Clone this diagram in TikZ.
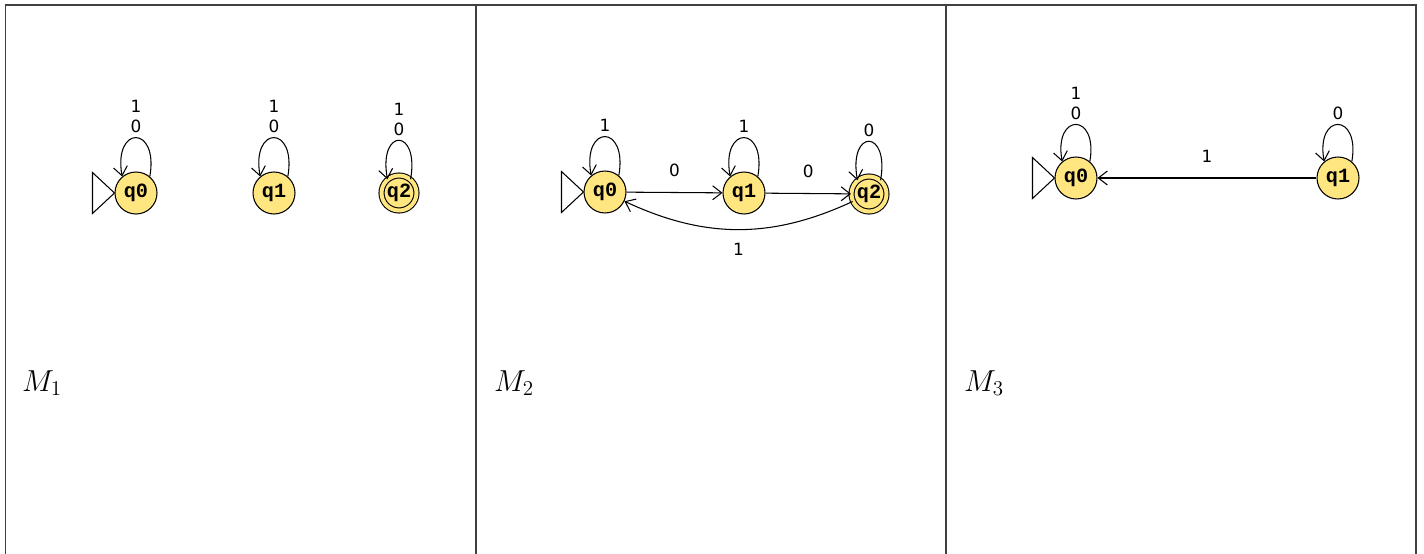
\documentclass[tikz,border=0pt]{standalone}
\usepackage{fontspec}
\usetikzlibrary{arrows.meta}
\newfontfamily\statefont{Liberation Mono}
\newfontfamily\edgefont{DejaVu Sans}
\definecolor{stateyellow}{RGB}{255,230,128}
\tikzset{
    mystate/.style={
        circle,              % state circle
        draw,
        fill=stateyellow,
        minimum size=0.84cm,
        inner sep=0pt,
        line width=0.6pt,
        font=\statefont\bfseries\fontsize{11.5}{13}\selectfont
    },
    myaccept/.style={
        mystate,
        minimum size=0.70cm,
        double=stateyellow,
        double distance=0.08cm
    },
    myedge/.style={-{Straight Barb[length=1.8mm,width=2.8mm]}, line width=0.6pt},
    mylabel/.style={font=\edgefont\fontsize{9.6}{11.4}\selectfont, align=center, inner sep=2.5pt},
    myframe/.style={black!75, line width=0.8pt}
}
\begin{document}
\begin{tikzpicture}[x=0.02cm, y=-0.02cm]

\clip (0,0) rectangle (1424,554);

% frame and dividers
\draw[myframe] (5.5,560) -- (5.5,5) -- (1416,5) -- (1416,560);
\draw[myframe] (476,5) -- (476,560);
\draw[myframe] (946,5) -- (946,560);

% machine names
\node[font=\fontsize{17}{20}\selectfont] (M1) at (42,383) {$M_1$};
\node[font=\fontsize{17}{20}\selectfont] (M2) at (514,383) {$M_2$};
\node[font=\fontsize{17}{20}\selectfont] (M3) at (984,383) {$M_3$};

% M1
\node[mystate] (A0) at (136,193) {q0};
\node[mystate] (A1) at (274,193) {q1};
\node[myaccept] (A2) at (399,193) {q2};
\draw[line width=0.6pt, fill=white] (A0.west) -- ++(-22,-20.5) -- ++(0,41) -- cycle;
\draw[myedge] (A0.50) .. controls +(80:1.05cm) and +(100:1.05cm) .. node[mylabel, above, pos=0.5] {1\\0} (A0.130);
\draw[myedge] (A1.50) .. controls +(80:1.05cm) and +(100:1.05cm) .. node[mylabel, above, pos=0.5] {1\\0} (A1.130);
\draw[myedge] (A2.50) .. controls +(80:1.05cm) and +(100:1.05cm) .. node[mylabel, above, pos=0.5] {1\\0} (A2.130);

% M2
\node[mystate] (B0) at (605,192) {q0};
\node[mystate] (B1) at (744,193) {q1};
\node[myaccept] (B2) at (869,194) {q2};
\draw[line width=0.6pt, fill=white] (B0.west) -- ++(-22,-20.5) -- ++(0,41) -- cycle;
\draw[myedge] (B0.50) .. controls +(80:1.05cm) and +(100:1.05cm) .. node[mylabel, above, pos=0.5] {1} (B0.130);
\draw[myedge] (B1.50) .. controls +(80:1.05cm) and +(100:1.05cm) .. node[mylabel, above, pos=0.5] {1} (B1.130);
\draw[myedge] (B2.50) .. controls +(80:1.05cm) and +(100:1.05cm) .. node[mylabel, above, pos=0.5] {0} (B2.130);
\draw[myedge] (B0) -- node[mylabel, above=6pt] {0} (B1);
\draw[myedge] (B1) -- node[mylabel, above=6pt] {0} (B2);
\draw[myedge] (B2) to[bend left=25] node[mylabel, below=5pt] {1} (B0);

% M3
\node[mystate] (C0) at (1076,178) {q0};
\node[mystate] (C1) at (1338,178) {q1};
\draw[line width=0.6pt, fill=white] (C0.west) -- ++(-22,-20.5) -- ++(0,41) -- cycle;
\draw[myedge] (C0.50) .. controls +(80:1.0cm) and +(100:1.0cm) .. node[mylabel, above, pos=0.5] {1\\0} (C0.130);
\draw[myedge] (C1.50) .. controls +(80:1.0cm) and +(100:1.0cm) .. node[mylabel, above, pos=0.5] {0} (C1.130);
\draw[myedge] (C1) -- node[mylabel, above=6pt] {1} (C0);

\end{tikzpicture}
\end{document}
